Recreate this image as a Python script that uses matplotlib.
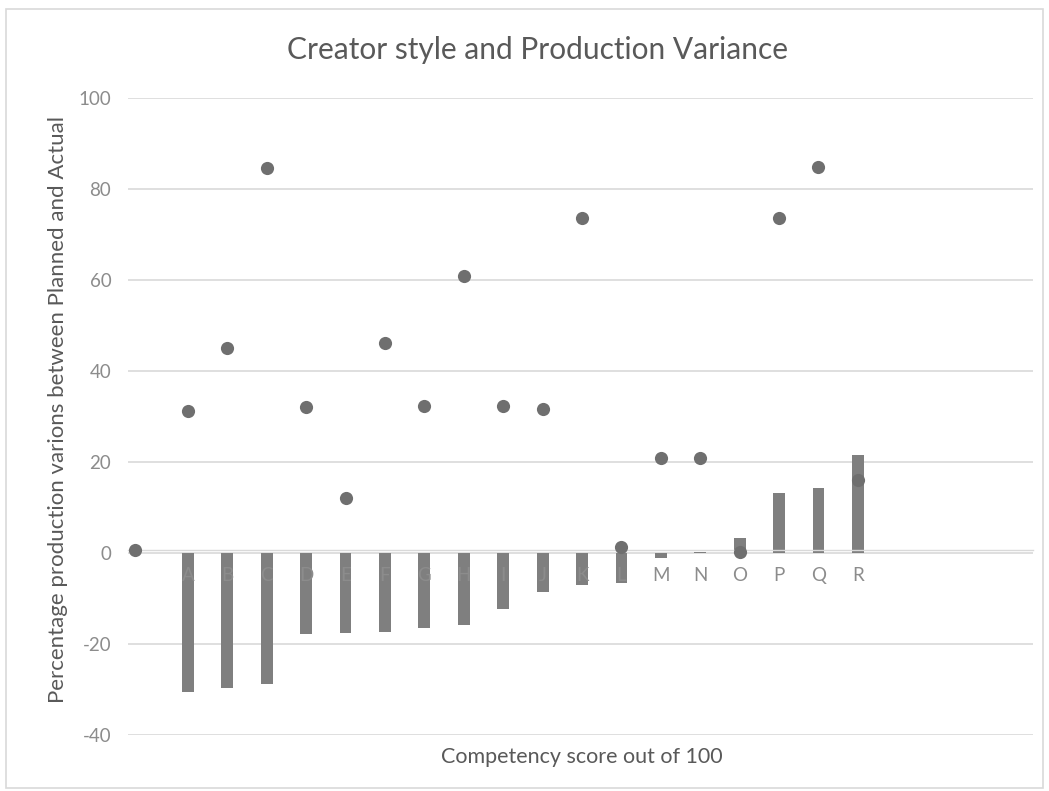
import matplotlib.pyplot as plt
from matplotlib.patches import Rectangle

# Production variance per creator (bars) and planned/actual spread (dots)
creators = ['A', 'B', 'C', 'D', 'E', 'F', 'G', 'H', 'I',
            'J', 'K', 'L', 'M', 'N', 'O', 'P', 'Q', 'R']
variance = [-30.5, -29.7, -28.8, -17.8, -17.6, -17.3, -16.5, -15.8, -12.4,
            -8.5, -7.0, -6.6, -1.1, 0.3, 3.3, 13.2, 14.3, 21.5]

# scatter series sits on its own x positions (first point left of A)
spread_x = [-1.35, 0, 1, 2, 3, 4, 5, 6, 7, 8, 9, 10, 11, 12, 13, 14, 15, 16, 17]
spread_y = [0.6, 31.2, 45.1, 84.6, 32.1, 12.1, 46.2, 32.3, 60.9, 32.3,
            31.6, 73.6, 1.3, 20.9, 20.9, 0.2, 73.6, 84.8, 16.0]

yticks = [-40, -20, 0, 20, 40, 60, 80, 100]

plt.rcParams['font.family'] = ['Lato', 'DejaVu Sans']
plt.rcParams['axes.unicode_minus'] = False

fig = plt.figure(figsize=(10.49, 7.91), dpi=100)
ax = fig.add_axes([0.122, 0.0708, 0.863, 0.8052])

grey_txt = '#595959'
grey_tick = '#8c8c8c'

ax.set_ylim(-40, 100)
ax.set_xlim(-1.52, 21.45)
ax.set_yticks(yticks)
ax.yaxis.grid(True, color='#d9d9d9', linewidth=1.2)
ax.set_axisbelow(True)
for s in ax.spines.values():
    s.set_visible(False)
ax.tick_params(axis='y', length=0, pad=12, labelsize=13.5, labelcolor=grey_tick)

# category axis runs through zero, labels drawn over the bars
ax.spines['bottom'].set_visible(True)
ax.spines['bottom'].set_position(('data', 0.7))
ax.spines['bottom'].set_color('#d9d9d9')
ax.spines['bottom'].set_linewidth(1.0)
ax.set_xticks(range(len(creators)))
ax.set_xticklabels(creators)
ax.tick_params(axis='x', length=0, pad=12, labelsize=13.5, labelcolor=grey_tick)
ax.xaxis.set_zorder(4)

ax.bar(range(len(creators)), variance, width=0.3, color='#7f7f7f', zorder=2)
ax.scatter(spread_x, spread_y, s=90, color='#6f6f6f', zorder=3, linewidths=0)

fig.text(0.512, 0.937, 'Creator style and Production Variance',
         ha='center', va='center', fontsize=21.5, color=grey_txt)
fig.text(0.555, 0.043, 'Competency score out of 100',
         ha='center', va='center', fontsize=15.5, color=grey_txt)
fig.text(0.055, 0.482, 'Percentage production varions between Planned and Actual',
         ha='center', va='center', rotation=90, fontsize=16, color=grey_txt)

# chart area border
fig.patches.append(Rectangle((0.006, 0.004), 0.988, 0.985, transform=fig.transFigure,
                             fill=False, edgecolor='#d9d9d9', linewidth=1.2))

fig.savefig('out.png', dpi=100)
